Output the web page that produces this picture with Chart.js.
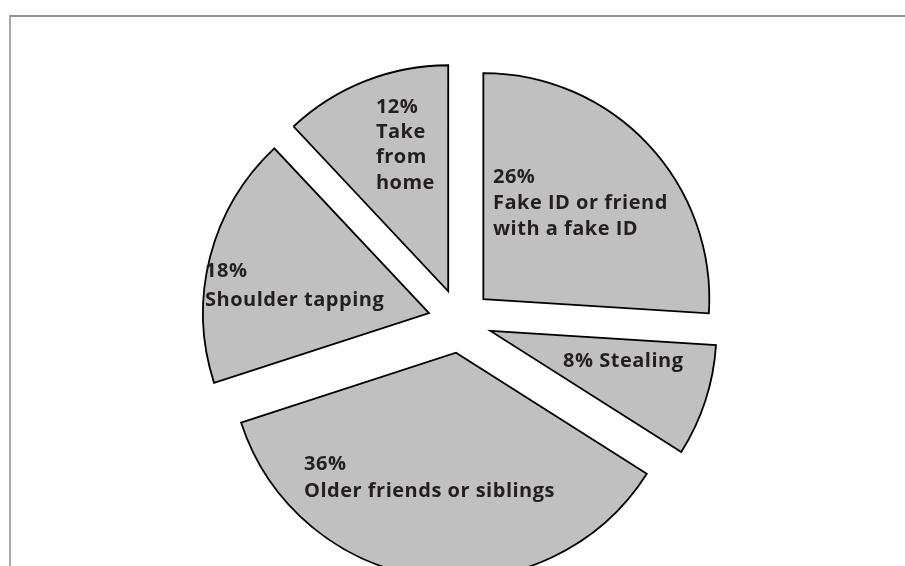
<!DOCTYPE html>
<html>
<head>
<meta charset="utf-8">
<script src="https://cdn.jsdelivr.net/npm/chart.js@4.4.1/dist/chart.umd.min.js"></script>
<style>
  body { margin: 0; background: #fff; }
  #wrap { position: relative; width: 905px; height: 566px; overflow: hidden; }
  #frame {
    position: absolute; left: 9px; top: 15px; right: -10px; bottom: -10px;
    border-top: 2px solid #939393; border-left: 2px solid #a8a8a8;
  }
  #pie { position: absolute; left: 0; top: 0; }
</style>
</head>
<body>
<div id="wrap">
  <div id="frame"></div>
  <canvas id="pie" width="905" height="566"></canvas>
</div>
<script>
const categories = ["Fake ID or friend with a fake ID", "Stealing", "Older friends or siblings", "Shoulder tapping", "Take from home"];
const shares = [26, 8, 36, 18, 12];
const labelLines = [
  ["26%", "Fake ID or friend", "with a fake ID"],
  ["8% Stealing"],
  ["36%", "Older friends or siblings"],
  ["18%", "Shoulder tapping"],
  ["12%", "Take", "from", "home"]
];

// where each text block starts, as a fraction of the radius from the pie centre, plus line height
const labelSpots = [
  [0.146, -0.646, 26],
  [0.456, 0.168, 26],
  [-0.690, 0.624, 27],
  [-1.128, -0.230, 29],
  [-0.372, -0.956, 25.3]
];

const gap = 32;

// the built-in offset also grows small slices, so push every slice out by the same gap instead
const explode = {
  id: 'explode',
  afterDatasetUpdate(chart) {
    chart.getDatasetMeta(0).data.forEach(arc => {
      const mid = (arc.startAngle + arc.endAngle) / 2;
      arc.x += Math.cos(mid) * gap;
      arc.y += Math.sin(mid) * gap;
    });
  }
};

const sliceLabels = {
  id: 'sliceLabels',
  afterDatasetsDraw(chart) {
    const ctx = chart.ctx;
    const area = chart.chartArea;
    const cx = (area.left + area.right) / 2;
    const cy = (area.top + area.bottom) / 2;
    const arcs = chart.getDatasetMeta(0).data;
    ctx.save();
    ctx.fillStyle = '#231f20';
    ctx.font = 'bold 20px "Open Sans"';
    ctx.letterSpacing = '0.5px';
    ctx.textAlign = 'left';
    ctx.textBaseline = 'middle';
    arcs.forEach((arc, i) => {
      const r = arc.outerRadius;
      const x = cx + labelSpots[i][0] * r;
      let y = cy + labelSpots[i][1] * r + 2;
      labelLines[i].forEach(line => {
        ctx.fillText(line, x, y);
        y += labelSpots[i][2];
      });
    });
    ctx.restore();
  }
};

new Chart(document.getElementById("pie"), {
  type: 'pie',
  data: {
    labels: categories,
    datasets: [{
      data: shares,
      backgroundColor: '#c0c0c0',
      borderColor: '#000000',
      borderWidth: 1.8,
      borderJoinStyle: 'miter'
    }]
  },
  options: {
    responsive: false,
    animation: false,
    events: [],
    radius: 226,
    layout: { padding: { left: 15, right: 0, top: 76, bottom: 0 } },
    plugins: {
      legend: { display: false },
      tooltip: { enabled: false }
    }
  },
  plugins: [explode, sliceLabels]
});
</script>
</body>
</html>
